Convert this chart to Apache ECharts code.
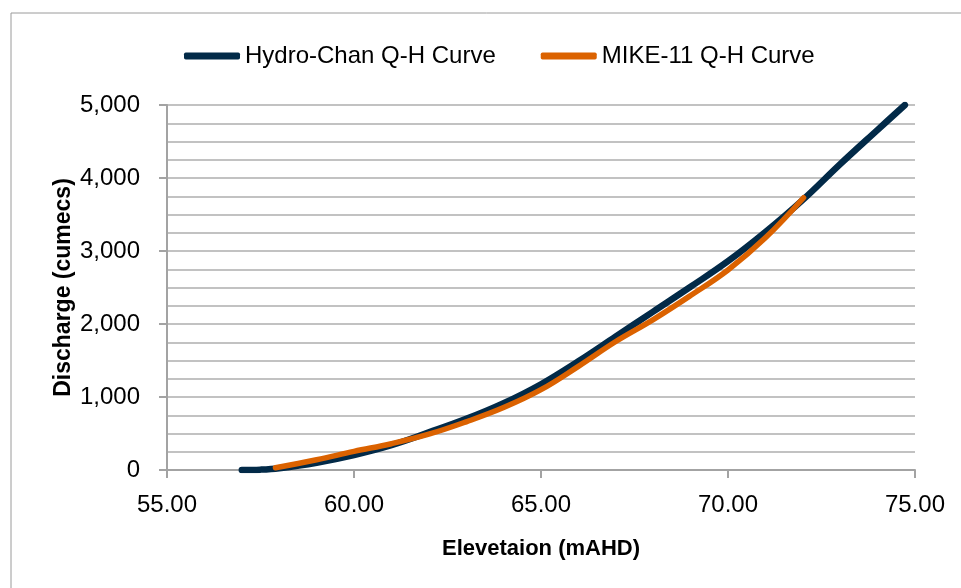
<!DOCTYPE html>
<html>
<head>
<meta charset="utf-8">
<script src="https://cdn.jsdelivr.net/npm/echarts@6/dist/echarts.min.js"></script>
<style>
html,body{margin:0;padding:0;background:#fff;}
#chart{width:961px;height:588px;}
</style>
</head>
<body>
<div id="chart"></div>
<script>
// Data
var seriesNames = ['Hydro-Chan Q-H Curve', 'MIKE-11 Q-H Curve'];
var hydroElev = [57.0, 57.5, 58.0, 59.0, 60.0, 61.0, 62.0, 63.0, 64.0, 65.0, 66.0, 67.0, 68.0, 69.0, 70.0, 71.0, 72.0, 73.0, 74.0, 74.73];
var hydroQ    = [0, 5, 25, 100, 205, 340, 515, 700, 915, 1175, 1490, 1830, 2170, 2510, 2860, 3260, 3700, 4190, 4660, 5000];
var mikeElev  = [57.9, 59.0, 60.0, 61.0, 62.0, 63.0, 64.0, 65.0, 66.0, 67.0, 68.0, 69.0, 70.0, 71.0, 72.02];
var mikeQ     = [30, 140, 255, 360, 490, 660, 855, 1100, 1420, 1760, 2060, 2390, 2740, 3180, 3730];
var xTickMin = 55, xTickMax = 75, xTickStep = 5;
var yTickMin = 0, yTickMax = 5000, yTickStep = 1000;

function pairs(xs, ys){ return xs.map(function(x,i){ return [x, ys[i]]; }); }

var FONT = '"Liberation Sans", Arial, sans-serif';
var gridColor = '#c2c2c2';
var axisColor = '#a3a3a3';

var chart = echarts.init(document.getElementById('chart'), null, {renderer:'canvas'});
chart.setOption({
  animation: false,
  backgroundColor: '#ffffff',
  graphic: [{
    type: 'rect', left: 8.5, top: 10.5,
    shape: {x: 0, y: 0, width: 1000, height: 700},
    style: {fill: 'none', stroke: '#9a9a9a', lineWidth: 1},
    silent: true, z: -10
  }],
  legend: {
    left: 179, top: 39,
    icon: 'roundRect',
    itemWidth: 56, itemHeight: 7,
    itemGap: 45,
    textStyle: {fontFamily: FONT, fontSize: 24, color: '#000'},
    data: seriesNames
  },
  grid: {left: 167, right: 46, top: 105, bottom: 118, containLabel: false},
  xAxis: {
    type: 'value', min: xTickMin, max: xTickMax, interval: xTickStep,
    name: 'Elevetaion (mAHD)', nameLocation: 'middle', nameGap: 68,
    nameMoveOverlap: false,
    nameTextStyle: {fontFamily: FONT, fontSize: 22, fontWeight: 'bold', color: '#000'},
    axisLine: {show: true, lineStyle: {color: axisColor, width: 2}},
    axisTick: {show: true, length: 8, lineStyle: {color: axisColor, width: 2}},
    axisLabel: {fontFamily: FONT, fontSize: 24, color: '#000', margin: 23,
      formatter: function(v){ return v.toFixed(2); }},
    splitLine: {show: false}
  },
  yAxis: {
    type: 'value', min: yTickMin, max: yTickMax, interval: yTickStep,
    name: 'Discharge (cumecs)', nameLocation: 'middle', nameGap: 92,
    nameMoveOverlap: false,
    nameTextStyle: {fontFamily: FONT, fontSize: 23, fontWeight: 'bold', color: '#000'},
    axisLine: {show: true, lineStyle: {color: axisColor, width: 2}},
    axisTick: {show: true, length: 8, lineStyle: {color: axisColor, width: 2}},
    axisLabel: {fontFamily: FONT, fontSize: 24, color: '#000', margin: 27,
      formatter: function(v){ return v.toLocaleString('en-US'); }},
    splitLine: {show: true, lineStyle: {color: gridColor, width: 2}},
    minorTick: {show: false, splitNumber: 4},
    minorSplitLine: {show: true, lineStyle: {color: gridColor, width: 2}}
  },
  series: [
    {
      name: seriesNames[0], type: 'line', data: pairs(hydroElev, hydroQ),
      smooth: 0.4, showSymbol: false, symbol: 'none', z: 2,
      color: '#022a48',
      lineStyle: {width: 6.5, color: '#022a48', cap: 'round', join: 'round'}
    },
    {
      name: seriesNames[1], type: 'line', data: pairs(mikeElev, mikeQ),
      smooth: 0.4, showSymbol: false, symbol: 'none', z: 3,
      color: '#db6200',
      lineStyle: {width: 5.5, color: '#db6200', cap: 'round', join: 'round'}
    }
  ]
});
</script>
</body>
</html>
